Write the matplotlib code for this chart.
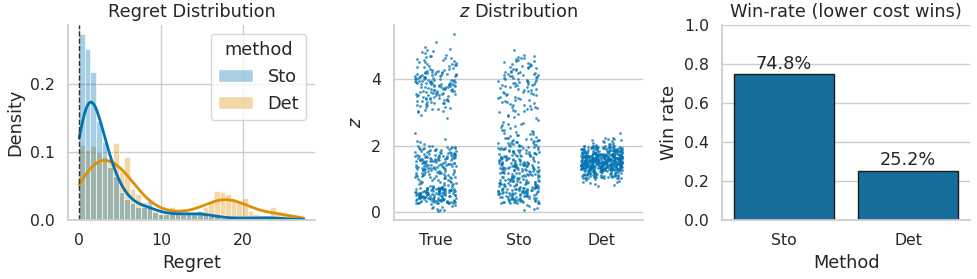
import numpy as np
import pandas as pd
import matplotlib
matplotlib.use("Agg")
import matplotlib.pyplot as plt
import seaborn as sns

# --- regret histogram: counts per bin (40 bins over 0..27.5)
regret_edges = np.linspace(0, 27.5, 41)
sto_counts = [98, 90, 78, 52, 41, 28, 23, 15, 11, 9,
              7, 7, 10, 4, 3, 3, 4, 3, 3, 3,
              3, 5, 3, 2, 2, 1, 1, 1, 1, 1,
              1, 1, 1, 2, 1, 1, 1, 0, 0, 1]
det_counts = [41, 38, 40, 37, 34, 33, 42, 26, 34, 17,
              14, 10, 7, 5, 3, 3, 7, 4, 3, 3,
              4, 5, 7, 10, 16, 15, 14, 12, 10, 12,
              5, 3, 2, 2, 7, 5, 3, 2, 1, 1]

# --- z strip plot: number of points per 0.25-wide z band
z_edges = np.arange(0, 5.75, 0.25)
z_true = [10, 60, 70, 20, 30, 40, 45, 30, 4, 1, 0,
          2, 12, 20, 28, 35, 30, 15, 12, 6, 1, 1]
z_sto = [5, 40, 50, 40, 35, 45, 35, 30, 22, 12, 8,
         6, 12, 12, 14, 18, 18, 14, 10, 1, 0, 0]
z_det = [0, 0, 0, 8, 60, 150, 160, 80, 15, 1, 0,
         0, 0, 0, 0, 0, 0, 0, 0, 0, 0, 0]
z_groups = ["True", "Sto", "Det"]

# --- win rate
methods = ["Sto", "Det"]
win_rate = [0.748, 0.252]
win_labels = ["74.8%", "25.2%"]

sns.set_theme(style="whitegrid", palette="colorblind")
plt.rcParams["font.family"] = ["DejaVu Sans"]
pal = sns.color_palette("colorblind")

centers = (regret_edges[:-1] + regret_edges[1:]) / 2
reg_df = pd.DataFrame({
    "regret": np.concatenate([np.repeat(centers, sto_counts), np.repeat(centers, det_counts)]),
    "method": ["Sto"] * sum(sto_counts) + ["Det"] * sum(det_counts),
})

zvals, zcat = [], []
for name, cnts in zip(z_groups, [z_true, z_sto, z_det]):
    for lo, hi, c in zip(z_edges[:-1], z_edges[1:], cnts):
        if c:
            zvals.extend(np.linspace(lo, hi, c + 2)[1:-1])
            zcat.extend([name] * c)
z_df = pd.DataFrame({"which": zcat, "z": zvals})

fig = plt.figure(figsize=(9.77, 2.79), dpi=100)
ax1 = fig.add_axes([0.0696, 0.2115, 0.2528, 0.699])
ax2 = fig.add_axes([0.4033, 0.2115, 0.2549, 0.699])
ax3 = fig.add_axes([0.739, 0.2115, 0.254, 0.699])

TS = 12.8   # titles / labels
KS = 11.3   # ticks

# left: regret distribution
sns.histplot(data=reg_df, x="regret", hue="method", hue_order=["Sto", "Det"],
             bins=regret_edges, stat="density", common_norm=False, kde=True,
             kde_kws={"cut": 1, "clip": (0, 27.5)}, alpha=0.35,
             line_kws={"lw": 2}, ax=ax1)
ax1.axvline(0, color="#333333", ls="--", lw=1)
ax1.set_title("Regret Distribution", fontsize=TS)
ax1.set_xlabel("Regret", fontsize=TS)
ax1.set_ylabel("Density", fontsize=TS)
ax1.set_yticks([0, 0.1, 0.2])
ax1.set_xticks([0, 10, 20])
ax1.tick_params(labelsize=KS)
sns.move_legend(ax1, "upper right", fontsize=TS, title_fontsize=TS)

# middle: z distribution
np.random.seed(0)
sns.stripplot(data=z_df, x="which", y="z", order=z_groups, jitter=0.25,
              size=2, alpha=0.75, color=pal[0], ax=ax2)
ax2.set_title("$z$ Distribution", fontsize=TS)
ax2.set_xlabel("")
ax2.set_ylabel("$z$", fontsize=TS)
ax2.set_yticks([0, 2, 4])
ax2.tick_params(labelsize=KS)

# right: win rate
sns.barplot(x=methods, y=win_rate, color=pal[0], edgecolor="#1a1a1a",
            linewidth=1, ax=ax3)
ax3.bar_label(ax3.containers[0], labels=win_labels, padding=1, fontsize=TS)
ax3.set_ylim(0, 1)
ax3.set_title("Win-rate (lower cost wins)", fontsize=TS)
ax3.set_xlabel("Method", fontsize=TS)
ax3.set_ylabel("Win rate", fontsize=TS)
ax3.tick_params(labelsize=KS)

for ax in (ax1, ax2, ax3):
    sns.despine(ax=ax)

fig.savefig("out.png", dpi=100)
